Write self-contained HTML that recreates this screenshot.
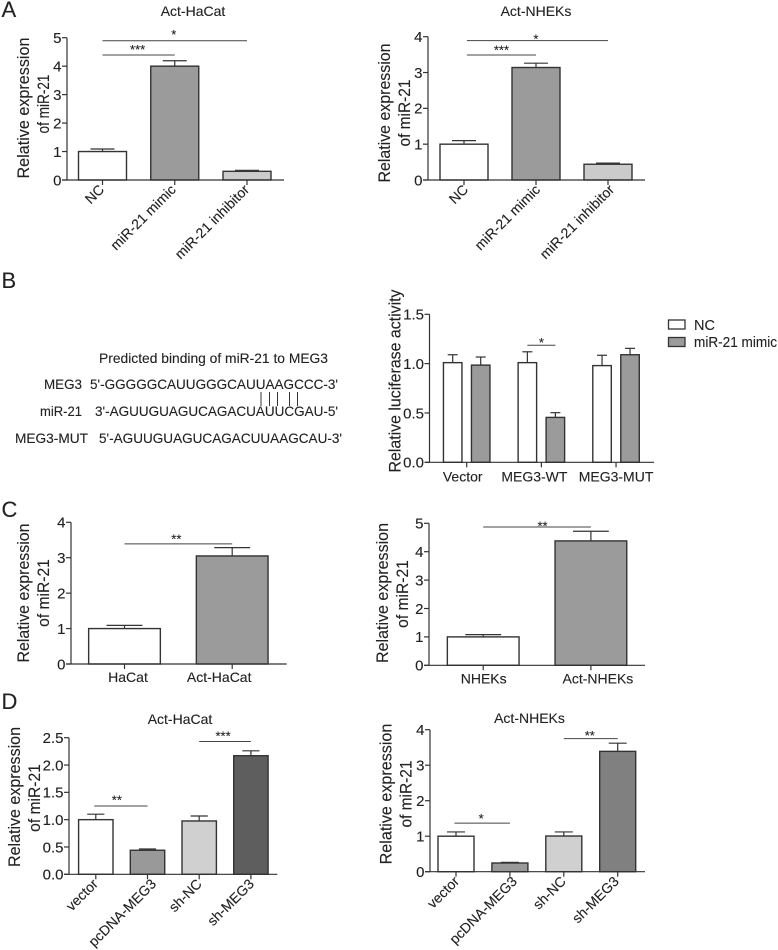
<!DOCTYPE html>
<html lang="en">
<head>
<meta charset="utf-8">
<title>miR-21 expression figure</title>
<style>
html,body{margin:0;padding:0;background:#fff;}
svg{display:block;filter:blur(0.35px);}
text{font-family:"Liberation Sans",Arial,sans-serif;fill:#222;stroke:#222;stroke-width:0.12;}
</style>
</head>
<body>
<svg id="fig" width="778" height="950" viewBox="0 0 778 950" xmlns="http://www.w3.org/2000/svg">
  <rect x="0" y="0" width="778" height="950" fill="#fff"/>
  <text x="1.5" y="17" font-size="22">A</text>
  <text x="1.5" y="288" font-size="22">B</text>
  <text x="1.5" y="517" font-size="22">C</text>
  <text x="1.5" y="709" font-size="22">D</text>

  <text x="193" y="16" font-size="14" text-anchor="middle">Act-HaCat</text>
  <text x="536" y="16" font-size="14" text-anchor="middle">Act-NHEKs</text>
  <text x="180" y="724" font-size="14" text-anchor="middle">Act-HaCat</text>
  <text x="529.5" y="723" font-size="14" text-anchor="middle">Act-NHEKs</text>

  <text x="99" y="363" font-size="14" textLength="229" lengthAdjust="spacingAndGlyphs">Predicted binding of miR-21 to MEG3</text>
  <text x="44" y="389" font-size="14" textLength="38" lengthAdjust="spacingAndGlyphs">MEG3</text>
  <text x="90" y="389" font-size="14" textLength="248" lengthAdjust="spacingAndGlyphs">5'-GGGGGCAUUGGGCAUUAAGCCC-3'</text>
  <text x="40" y="416" font-size="14" textLength="42" lengthAdjust="spacingAndGlyphs">miR-21</text>
  <text x="95" y="416" font-size="14" textLength="243" lengthAdjust="spacingAndGlyphs">3'-AGUUGUAGUCAGACUAUUCGAU-5'</text>
  <text x="15" y="443" font-size="14" textLength="73" lengthAdjust="spacingAndGlyphs">MEG3-MUT</text>
  <text x="99" y="443" font-size="14" textLength="243" lengthAdjust="spacingAndGlyphs">5'-AGUUGUAGUCAGACUUAAGCAU-3'</text>
  <g stroke="#333" stroke-width="1">
    <line x1="261" y1="392" x2="261" y2="406"/>
    <line x1="269.5" y1="392" x2="269.5" y2="406"/>
    <line x1="277.5" y1="392" x2="277.5" y2="406"/>
    <line x1="289.5" y1="392" x2="289.5" y2="406"/>
    <line x1="297.5" y1="392" x2="297.5" y2="406"/>
  </g>

  <g>
    <rect x="668.5" y="320" width="16.5" height="9" fill="#fff" stroke="#333" stroke-width="1.3"/>
    <text x="694" y="330" font-size="14.5">NC</text>
    <rect x="668.5" y="337.5" width="16.5" height="9" fill="#9b9b9b" stroke="#333" stroke-width="1.3"/>
    <text x="694" y="347" font-size="14.5" textLength="83" lengthAdjust="spacingAndGlyphs">miR-21 mimic</text>
  </g>
</svg>

<script>
/* Panel A, Act-HaCat */
const a1Categories = ["NC", "miR-21 mimic", "miR-21 inhibitor"];
const a1Values = [1.0, 4.0, 0.305];
const a1Errors = [0.09, 0.19, 0.035];
const a1Ticks = ["0", "1", "2", "3", "4", "5"];
const a1SigFrom = [0, 0];
const a1SigTo = [2, 1];
const a1SigLevel = [4.895, 4.39];
const a1SigText = ["*", "***"];

/* Panel A, Act-NHEKs */
const a2Categories = ["NC", "miR-21 mimic", "miR-21 inhibitor"];
const a2Values = [1.0, 3.14, 0.44];
const a2Errors = [0.1, 0.12, 0.03];
const a2Ticks = ["0", "1", "2", "3", "4"];
const a2SigFrom = [0.04, 0.04];
const a2SigTo = [2, 1];
const a2SigLevel = [3.89, 3.49];
const a2SigText = ["*", "***"];

/* Panel B, luciferase */
const bCategories = ["Vector", "MEG3-WT", "MEG3-MUT"];
const bSeriesNames = ["NC", "miR-21 mimic"];
const bNcValues = [1.01, 1.01, 0.98];
const bNcErrors = [0.08, 0.11, 0.105];
const bMimicValues = [0.985, 0.455, 1.09];
const bMimicErrors = [0.082, 0.048, 0.065];
const bTicks = ["0.0", "0.5", "1.0", "1.5"];
const bSigGroup = [1];
const bSigLevel = [1.186];
const bSigText = ["*"];

/* Panel C, HaCat */
const c1Categories = ["HaCat", "Act-HaCat"];
const c1Values = [1.0, 3.05];
const c1Errors = [0.09, 0.235];
const c1Ticks = ["0", "1", "2", "3", "4"];
const c1SigFrom = [0];
const c1SigTo = [1];
const c1SigLevel = [3.39];
const c1SigText = ["**"];

/* Panel C, NHEKs */
const c2Categories = ["NHEKs", "Act-NHEKs"];
const c2Values = [1.0, 4.38];
const c2Errors = [0.08, 0.34];
const c2Ticks = ["0", "1", "2", "3", "4", "5"];
const c2SigFrom = [0];
const c2SigTo = [1];
const c2SigLevel = [4.87];
const c2SigText = ["**"];

/* Panel D, Act-HaCat */
const d1Categories = ["vector", "pcDNA-MEG3", "sh-NC", "sh-MEG3"];
const d1Values = [1.0, 0.44, 0.976, 2.17];
const d1Errors = [0.1, 0.023, 0.091, 0.09];
const d1Ticks = ["0.0", "0.5", "1.0", "1.5", "2.0", "2.5"];
const d1SigFrom = [-0.03, 2];
const d1SigTo = [1, 3];
const d1SigLevel = [1.25, 2.43];
const d1SigText = ["**", "***"];

/* Panel D, Act-NHEKs */
const d2Categories = ["vector", "pcDNA-MEG3", "sh-NC", "sh-MEG3"];
const d2Values = [1.0, 0.245, 1.005, 3.39];
const d2Errors = [0.12, 0.02, 0.115, 0.23];
const d2Ticks = ["0", "1", "2", "3", "4"];
const d2SigFrom = [-0.03, 2];
const d2SigTo = [1, 3];
const d2SigLevel = [1.37, 3.75];
const d2SigText = ["*", "**"];

const SVG_NS = "http://www.w3.org/2000/svg";
const INK = "#333";
const root = document.getElementById("fig");

function mk(parent, tag, attrs, content) {
  const el = document.createElementNS(SVG_NS, tag);
  for (const k in attrs) el.setAttribute(k, attrs[k]);
  if (content !== undefined) el.textContent = content;
  parent.appendChild(el);
  return el;
}

function drawAxes(g, id, frame, ticks, yScale) {
  const yAxis = mk(g, "line", {x1: frame.x0, x2: frame.x0, y1: yScale(parseFloat(ticks[ticks.length - 1])), y2: frame.y0, stroke: INK, "stroke-width": 1.2});
  
  
  const xAxis = mk(g, "line", {x1: frame.x0 - 5, x2: frame.x1, y1: frame.y0, y2: frame.y0, stroke: INK, "stroke-width": 1.2});
  
  
  ticks.forEach(function (t) {
    const y = yScale(parseFloat(t));
    const tick = mk(g, "line", {x1: frame.x0 - 5, x2: frame.x0, y1: y, y2: y, stroke: INK, "stroke-width": 1.2});
    
    
    const label = mk(g, "text", {x: frame.x0 - 5.5, y: y + 5.3, "font-size": 15, "text-anchor": "end"}, t);
    
    
  });
}

function drawBar(g, id, cx, width, y0, top, errTop, fill, capHalf) {
  const stem = mk(g, "line", {x1: cx, x2: cx, y1: top, y2: errTop, stroke: INK, "stroke-width": 1.2});
  
  
  const cap = mk(g, "line", {x1: cx - capHalf, x2: cx + capHalf, y1: errTop, y2: errTop, stroke: INK, "stroke-width": 1.2});
  
  
  const bar = mk(g, "rect", {x: cx - width / 2, y: top, width: width, height: y0 - top, fill: fill, stroke: INK, "stroke-width": 1.4});
  
  
}

function drawSig(g, id, xa, xb, y, txt, starX, starDy) {
  const line = mk(g, "line", {x1: xa, x2: xb, y1: y, y2: y, stroke: "#444", "stroke-width": 1});
  
  
  const star = mk(g, "text", {x: starX, y: y - starDy, "font-size": 13, "text-anchor": "middle"}, txt);
  
  
}

function drawYLabel(g, id, frame) {
  frame.yLabels.forEach(function (l) {
    const t = mk(g, "text", {
      transform: "translate(" + l.x + "," + l.cy + ") rotate(-90)",
      "font-size": 17, "text-anchor": "middle",
      textLength: l.len, lengthAdjust: "spacingAndGlyphs"
    }, l.text);
    
    
  });
}

function drawSimple(id, frame, categories, values, errors, ticks, sigFrom, sigTo, sigLevel, sigText) {
  const g = mk(root, "g", {});
  
  
  const yMax = parseFloat(ticks[ticks.length - 1]);
  const yScale = function (v) { return frame.y0 - v / yMax * (frame.y0 - frame.yTop); };
  const xScale = function (i) { return frame.c0 + i * frame.step; };
  drawYLabel(g, id, frame);
  categories.forEach(function (c, i) {
    const cx = xScale(i);
    drawBar(g, id + "-" + c.toLowerCase().replace(/[^a-z0-9]+/g, "-"), cx, frame.barW, frame.y0,
      yScale(values[i]), yScale(values[i] + errors[i]), frame.fills[i], frame.barW / 4);
    const tk = mk(g, "line", {x1: cx, x2: cx, y1: frame.y0, y2: frame.y0 + 5, stroke: INK, "stroke-width": 1.2});
    
    
    let lab;
    if (frame.rotate) {
      lab = mk(g, "text", {
        transform: "translate(" + (cx + frame.labelDx[i]) + "," + (frame.y0 + 10.5) + ") rotate(-45)",
        "font-size": 14, "text-anchor": "end"
      }, c);
    } else {
      lab = mk(g, "text", {x: cx + frame.labelDx[i], y: frame.y0 + 18, "font-size": 14, "text-anchor": "middle"}, c);
    }
    
    
  });
  drawAxes(g, id, frame, ticks, yScale);
  sigLevel.forEach(function (lv, i) {
    const xa = xScale(sigFrom[i]);
    const xb = xScale(sigTo[i]);
    drawSig(g, id, xa, xb, yScale(lv), sigText[i], (xa + xb) / 2 + frame.starDx[i], frame.starDy[i]);
  });
}

drawSimple("a-hacat", {
  x0: 67, x1: 284, y0: 180, yTop: 37.7, c0: 102.5, step: 72.25, barW: 48, rotate: true,
  starDy: [1.7, 1.3], starDx: [-1, -1], labelDx: [2.5, 2, 3],
  fills: ["#fff", "#9b9b9b", "#cbcbcb"],
  yLabels: [{text: "Relative expression", x: 29, cy: 108, len: 141}, {text: "of miR-21", x: 49, cy: 104, len: 59}]
}, a1Categories, a1Values, a1Errors, a1Ticks, a1SigFrom, a1SigTo, a1SigLevel, a1SigText);

drawSimple("a-nheks", {
  x0: 428, x1: 645, y0: 180, yTop: 36.7, c0: 464, step: 72, barW: 48, rotate: true,
  starDy: [-3, 0.3], starDx: [-1.5, 0], labelDx: [5, 5, 7],
  fills: ["#fff", "#9b9b9b", "#cbcbcb"],
  yLabels: [{text: "Relative expression", x: 390, cy: 113, len: 139}, {text: "of miR-21", x: 410, cy: 113, len: 67}]
}, a2Categories, a2Values, a2Errors, a2Ticks, a2SigFrom, a2SigTo, a2SigLevel, a2SigText);

drawSimple("c-hacat", {
  x0: 71, x1: 286.7, y0: 664, yTop: 522.3, c0: 124.5, step: 107.7, barW: 71.7, rotate: false,
  starDy: [0.3], starDx: [-2], labelDx: [3.5, -13], fills: ["#fff", "#9b9b9b"],
  yLabels: [{text: "Relative expression", x: 29, cy: 593, len: 139}, {text: "of miR-21", x: 49, cy: 593, len: 67.7}]
}, c1Categories, c1Values, c1Errors, c1Ticks, c1SigFrom, c1SigTo, c1SigLevel, c1SigText);

drawSimple("c-nheks", {
  x0: 429, x1: 645, y0: 665.3, yTop: 523.3, c0: 483.2, step: 107.7, barW: 71.7, rotate: false,
  starDy: [-3.3], starDx: [5.5], labelDx: [0.5, 7], fills: ["#fff", "#9b9b9b"],
  yLabels: [{text: "Relative expression", x: 388, cy: 593, len: 140}, {text: "of miR-21", x: 408, cy: 594, len: 67.7}]
}, c2Categories, c2Values, c2Errors, c2Ticks, c2SigFrom, c2SigTo, c2SigLevel, c2SigText);

drawSimple("d-hacat", {
  x0: 69, x1: 277.3, y0: 874.3, yTop: 737.7, c0: 95.8, step: 51.7, barW: 34.4, rotate: true,
  starDy: [1.3, 1], starDx: [-4, -2], labelDx: [3, 9.5, 3.5, 4],
  fills: ["#fff", "#999", "#d0d0d0", "#5e5e5e"],
  yLabels: [{text: "Relative expression", x: 20, cy: 797, len: 140}, {text: "of miR-21", x: 40, cy: 798, len: 67.7}]
}, d1Categories, d1Values, d1Errors, d1Ticks, d1SigFrom, d1SigTo, d1SigLevel, d1SigText);

drawSimple("d-nheks", {
  x0: 430, x1: 645, y0: 871.7, yTop: 729.7, c0: 456, step: 53.9, barW: 36, rotate: true,
  starDy: [0, -1.3], starDx: [-1, -1], labelDx: [4, 8, 3, 2],
  fills: ["#fff", "#999", "#d0d0d0", "#808080"],
  yLabels: [{text: "Relative expression", x: 391.7, cy: 794, len: 140.7}, {text: "of miR-21", x: 411.7, cy: 794, len: 67}]
}, d2Categories, d2Values, d2Errors, d2Ticks, d2SigFrom, d2SigTo, d2SigLevel, d2SigText);

/* Grouped luciferase chart */
(function () {
  const id = "b-luciferase";
  const frame = {
    x0: 429.5, x1: 654, y0: 462.3, yTop: 314.3, c0: 466.7, step: 74.67, off: 14, barW: 18.5,
    labelDx: [-4, -7, 0],
    yLabels: [{text: "Relative luciferase activity", x: 400.7, cy: 381, len: 183}]
  };
  const g = mk(root, "g", {});
  
  
  const yMax = parseFloat(bTicks[bTicks.length - 1]);
  const yScale = function (v) { return frame.y0 - v / yMax * (frame.y0 - frame.yTop); };
  const xScale = function (i) { return frame.c0 + i * frame.step; };
  drawYLabel(g, id, frame);
  bCategories.forEach(function (c, i) {
    const cx = xScale(i);
    const key = c.toLowerCase().replace(/[^a-z0-9]+/g, "-");
    drawBar(g, id + "-" + key + "-nc", cx - frame.off, frame.barW, frame.y0,
      yScale(bNcValues[i]), yScale(bNcValues[i] + bNcErrors[i]), "#fff", 5);
    drawBar(g, id + "-" + key + "-mimic", cx + frame.off, frame.barW, frame.y0,
      yScale(bMimicValues[i]), yScale(bMimicValues[i] + bMimicErrors[i]), "#9b9b9b", 5);
    const tk = mk(g, "line", {x1: cx, x2: cx, y1: frame.y0, y2: frame.y0 + 5, stroke: INK, "stroke-width": 1.2});
    
    
    const lab = mk(g, "text", {x: cx + frame.labelDx[i], y: frame.y0 + 19, "font-size": 14, "text-anchor": "middle"}, c);
    
    
  });
  drawAxes(g, id, frame, bTicks, yScale);
  bSigLevel.forEach(function (lv, i) {
    const cx = xScale(bSigGroup[i]);
    drawSig(g, id, cx - frame.off, cx + frame.off, yScale(lv), bSigText[i], cx, -1.7);
  });
})();
</script>
</body>
</html>
